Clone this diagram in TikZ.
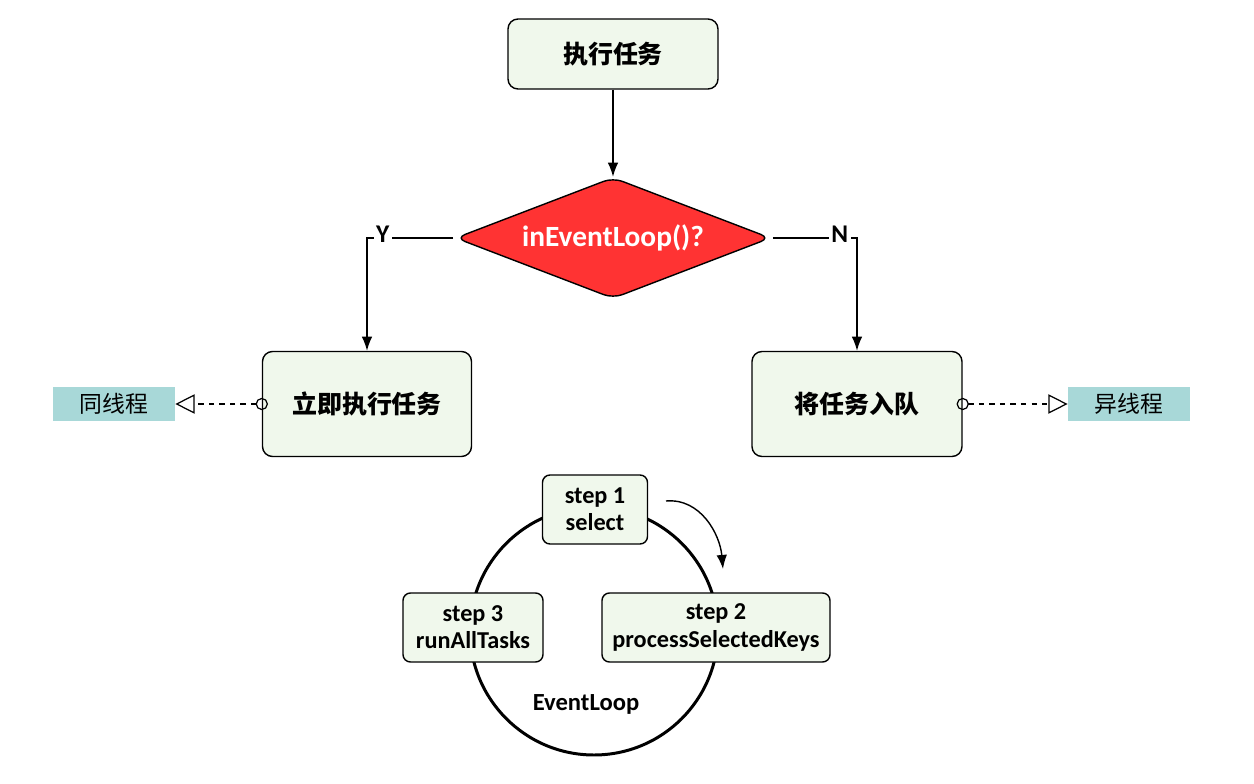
\documentclass[tikz,border=0pt]{standalone}
\usepackage{fontspec}
\setmainfont{Carlito}
\newfontfamily\cjk{Noto Sans CJK SC}
\usetikzlibrary{arrows.meta,shapes.geometric}
\definecolor{boxgreen}{RGB}{240,248,236}
\definecolor{alertred}{RGB}{255,51,51}
\definecolor{tagteal}{RGB}{168,216,216}
\tikzset{
    taskbox/.style={draw,line width=0.8pt,fill=boxgreen,rounded corners=0.2cm,font=\cjk\bfseries\fontsize{14.2}{16}\selectfont},
    stepbox/.style={draw,line width=0.8pt,fill=boxgreen,rounded corners=0.15cm,minimum height=1.38cm,align=center,font=\bfseries\fontsize{13.8}{15.5}\selectfont},
    decision/.style={diamond,aspect=2.6,draw,line width=0.8pt,fill=alertred,rounded corners=0.2cm,text=white,inner sep=0pt,font=\bfseries\fontsize{16.7}{18}\selectfont},
    threadtag/.style={fill=tagteal,minimum width=2.44cm,minimum height=0.68cm,font=\cjk\fontsize{13}{15}\selectfont},
    flow/.style={-{Latex[length=8pt,width=6pt]},line width=0.8pt},
    hint/.style={{Circle[open,length=7pt,width=7pt]}-{Triangle[open,length=11pt,width=11pt]},dashed,line width=0.7pt},
    branch/.style={fill=white,inner sep=1.5pt,font=\bfseries\fontsize{14.5}{16}\selectfont}
}

\begin{document}
\begin{tikzpicture}
    \useasboundingbox (0,0) rectangle (25.08,-15.68);
    % Decision part
    \node[taskbox,minimum width=4.2cm,minimum height=1.4cm] (task) at (12.26,-1.08) {执行任务};
    \node[decision,minimum width=6.3cm,minimum height=2.42cm] (check) at (12.26,-4.76) {inEventLoop()?};
    \node[taskbox,minimum width=4.18cm,minimum height=2.1cm] (runnow) at (7.34,-8.08) {立即执行任务};
    \node[taskbox,minimum width=4.2cm,minimum height=2.1cm] (enqueue) at (17.14,-8.08) {将任务入队};
    \node[threadtag] (same) at (2.28,-8.08) {同线程};
    \node[threadtag] (other) at (22.58,-8.08) {异线程};
    \draw[flow] (task) -- (check);
    \draw[flow,shorten <=1pt] (check.west) -| (runnow.north)
        node[branch,pos=0.41,yshift=2pt] {Y};
    \draw[flow,shorten <=1pt] (check.east) -| (enqueue.north)
        node[branch,pos=0.40,yshift=2pt] {N};
    \draw[hint,shorten <=-3.5pt] (runnow.west) -- (same.east);
    \draw[hint,shorten <=-3.5pt] (enqueue.east) -- (other.west);
    % Event loop
    \node[circle,draw,line width=1.7pt,minimum size=4.96cm] (loop) at (11.88,-12.62) {};
    \node[font=\bfseries\fontsize{14}{16}\selectfont] (looplabel) at (11.72,-14.08) {EventLoop};
    \node[stepbox,minimum width=2.1cm] (stepa) at (11.9,-10.19) {step 1\\select};
    \node[stepbox,minimum width=4.56cm] (stepb) at (14.32,-12.55) {step 2\\processSelectedKeys};
    \node[stepbox,minimum width=2.8cm] (stepc) at (9.46,-12.55) {step 3\\runAllTasks};
    \coordinate (turnfrom) at (13.32,-10.02);
    \coordinate (turnto) at (14.46,-11.38);
    \draw[flow] (turnfrom) to[out=5,in=95] (turnto);
\end{tikzpicture}
\end{document}
